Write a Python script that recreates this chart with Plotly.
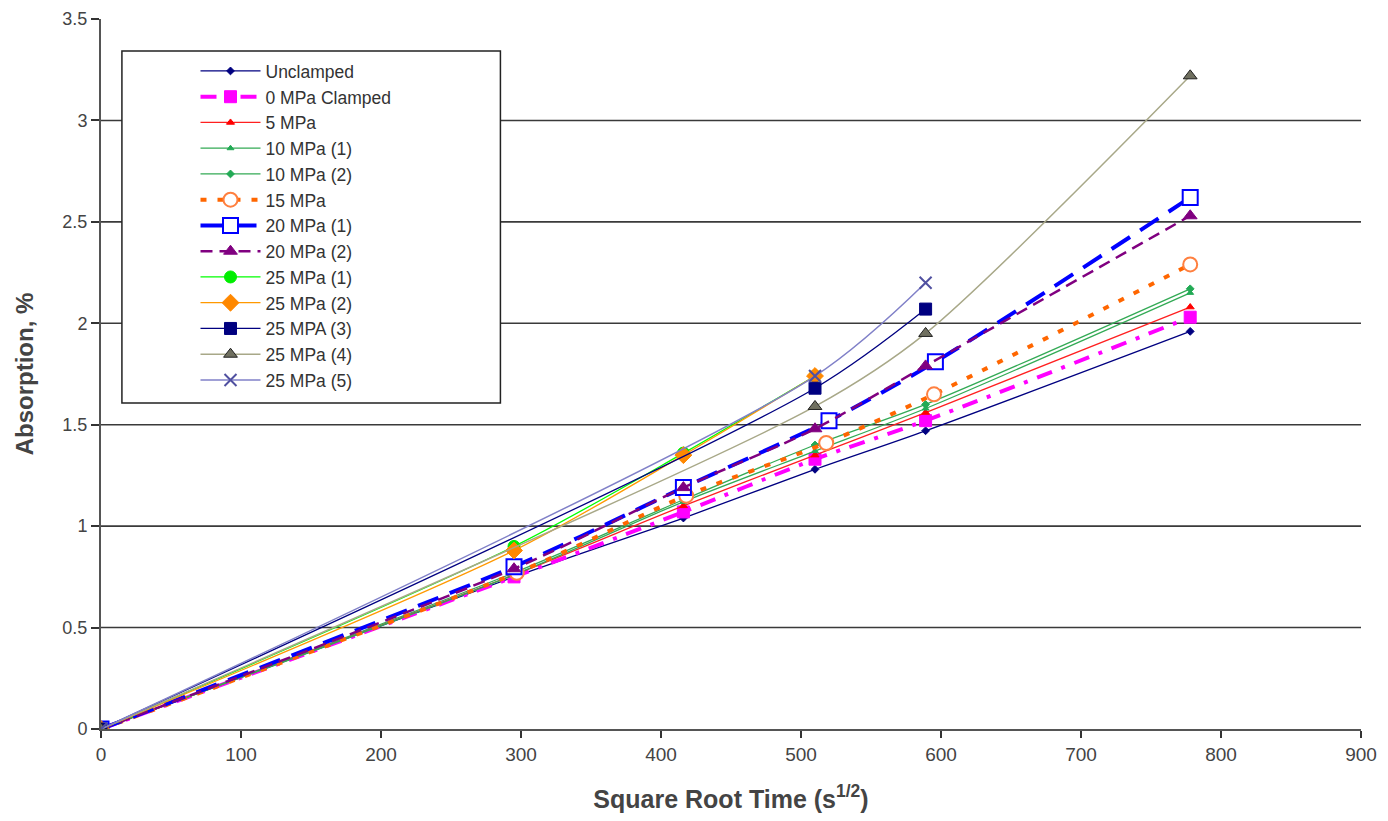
import plotly.graph_objects as go

# axes
x_ticks = [0, 100, 200, 300, 400, 500, 600, 700, 800, 900]
y_ticks = [0, 0.5, 1, 1.5, 2, 2.5, 3, 3.5]

# series data (sqrt time, absorption %)
names = ["Unclamped", "0 MPa Clamped", "5 MPa", "10 MPa (1)", "10 MPa (2)", "15 MPa",
         "20 MPa (1)", "20 MPa (2)", "25 MPa (1)", "25 MPa (2)", "25 MPA (3)",
         "25 MPa (4)", "25 MPa (5)"]

x_unclamped = [0, 295, 416, 510, 589, 778]
y_unclamped = [0, 0.75, 1.04, 1.28, 1.47, 1.96]
x_0mpa = [0, 295, 416, 510, 589, 778]
y_0mpa = [0, 0.75, 1.07, 1.33, 1.52, 2.03]
x_5mpa = [0, 295, 416, 510, 589, 778]
y_5mpa = [0, 0.76, 1.10, 1.35, 1.56, 2.08]
x_10mpa_1 = [0, 295, 416, 510, 589, 778]
y_10mpa_1 = [0, 0.76, 1.12, 1.37, 1.58, 2.15]
x_10mpa_2 = [0, 295, 416, 510, 589, 778]
y_10mpa_2 = [0, 0.77, 1.13, 1.40, 1.60, 2.17]
x_15mpa = [0, 297, 418, 518, 595, 778]
y_15mpa = [0, 0.77, 1.15, 1.41, 1.65, 2.29]
x_20mpa_1 = [0, 295, 416, 520, 596, 778]
y_20mpa_1 = [0, 0.80, 1.19, 1.52, 1.81, 2.62]
x_20mpa_2 = [0, 295, 416, 510, 589, 778]
y_20mpa_2 = [0, 0.79, 1.19, 1.48, 1.79, 2.53]
x_25mpa_1 = [0, 295, 416, 510]
y_25mpa_1 = [0, 0.90, 1.36, 1.74]
x_25mpa_2 = [0, 295, 416, 510]
y_25mpa_2 = [0, 0.88, 1.35, 1.74]
x_25mpa_3 = [0, 510, 589]
y_25mpa_3 = [0, 1.68, 2.07]
x_25mpa_4 = [0, 510, 589, 778]
y_25mpa_4 = [0, 1.59, 1.95, 3.22]
x_25mpa_5 = [0, 510, 589]
y_25mpa_5 = [0, 1.74, 2.20]

xs = [x_unclamped, x_0mpa, x_5mpa, x_10mpa_1, x_10mpa_2, x_15mpa, x_20mpa_1,
      x_20mpa_2, x_25mpa_1, x_25mpa_2, x_25mpa_3, x_25mpa_4, x_25mpa_5]
ys = [y_unclamped, y_0mpa, y_5mpa, y_10mpa_1, y_10mpa_2, y_15mpa, y_20mpa_1,
      y_20mpa_2, y_25mpa_1, y_25mpa_2, y_25mpa_3, y_25mpa_4, y_25mpa_5]

# styles: line color, width, dash, marker symbol, size, fill, outline
styles = [
    ("#000080", 1.3, "solid", "diamond", 6, "#000080", "#000080"),
    ("#FF00FF", 4, "16px,10px,4px,10px", "square", 12, "#FF00FF", "#FF00FF"),
    ("#FF2020", 1.3, "solid", "triangle-up", 7, "#FF0000", "#FF0000"),
    ("#33AA55", 1.3, "solid", "triangle-up", 6, "#22AA55", "#22AA55"),
    ("#33AA55", 1.3, "solid", "diamond", 6, "#22AA55", "#22AA55"),
    ("#FF6600", 4, "6px,11px", "circle", 14, "white", "#FF8040"),
    ("#0000FF", 4, "22px,12px", "square", 15, "white", "#0000FF"),
    ("#800080", 2.5, "12px,7px", "triangle-up", 12, "#800080", "#800080"),
    ("#00FF00", 1.3, "solid", "circle", 12, "#00EE00", "#00EE00"),
    ("#FF9900", 1.3, "solid", "diamond", 13, "#FF8800", "#FF8800"),
    ("#000080", 1.3, "solid", "square", 12, "#000080", "#000080"),
    ("#A8A888", 1.5, "solid", "triangle-up", 12, "#707060", "#202020"),
    ("#8080C8", 1.5, "solid", "x-thin-open", 12, "#5050A0", "#5050A0"),
]

fig = go.Figure()
for name, x, y, st in zip(names, xs, ys, styles):
    color, width, dash, symbol, size, fill, outline = st
    fig.add_trace(go.Scatter(
        x=x, y=y, name=name, mode="lines+markers",
        line=dict(color=color, width=width, dash=dash, shape="spline", smoothing=0.8),
        marker=dict(symbol=symbol, size=size, color=fill,
                    line=dict(color=outline, width=2 if fill == "white" or symbol.startswith("x") else 1)),
    ))

# horizontal gridlines (not at the top)
for g in y_ticks[1:-1]:
    fig.add_shape(type="line", xref="paper", yref="y", x0=0, x1=1, y0=g, y1=g,
                  line=dict(color="#3a3a3a", width=1.6), layer="below")

# legend box
fig.add_shape(type="rect", xref="paper", yref="paper", x0=0.0166, x1=0.317, y0=0.459, y1=0.955,
              line=dict(color="#222222", width=1.5), fillcolor="white", layer="below")

fig.update_layout(
    width=1380, height=805,
    margin=dict(l=93, r=27, t=11, b=84, autoexpand=False),
    paper_bgcolor="white", plot_bgcolor="white",
    font=dict(family="Liberation Sans, Arial", color="#333333", size=19),
    showlegend=True,
    legend=dict(x=0.075, y=0.952, xanchor="left", yanchor="top",
                bgcolor="rgba(0,0,0,0)", borderwidth=0,
                font=dict(size=17.5, color="#333333"), itemwidth=60,
                tracegroupgap=0),
    xaxis=dict(range=[0, 900], tickvals=x_ticks, showgrid=False, zeroline=False,
               automargin=False, ticklabeloverflow="allow",
               showline=True, linecolor="#555555", linewidth=2,
               ticks="outside", ticklen=7, tickwidth=1.5, tickcolor="#333333",
               tickfont=dict(size=19, color="#444444"),
               title=dict(text="<b>Square Root Time (s<sup>1/2</sup>)</b>",
                          font=dict(size=25, color="#444444"), standoff=28)),
    yaxis=dict(range=[0, 3.5], tickvals=y_ticks, ticktext=[f"{v:g}" for v in y_ticks],
               showgrid=False, zeroline=False, automargin=False, ticklabeloverflow="allow",
               showline=True, linecolor="#555555", linewidth=2,
               ticks="outside", ticklen=8, tickwidth=1.5, tickcolor="#333333",
               tickfont=dict(size=18, color="#444444"),
               title=dict(text="<b>Absorption, %</b>",
                          font=dict(size=24, color="#444444"), standoff=22)),
)

fig.write_html("out.html")
